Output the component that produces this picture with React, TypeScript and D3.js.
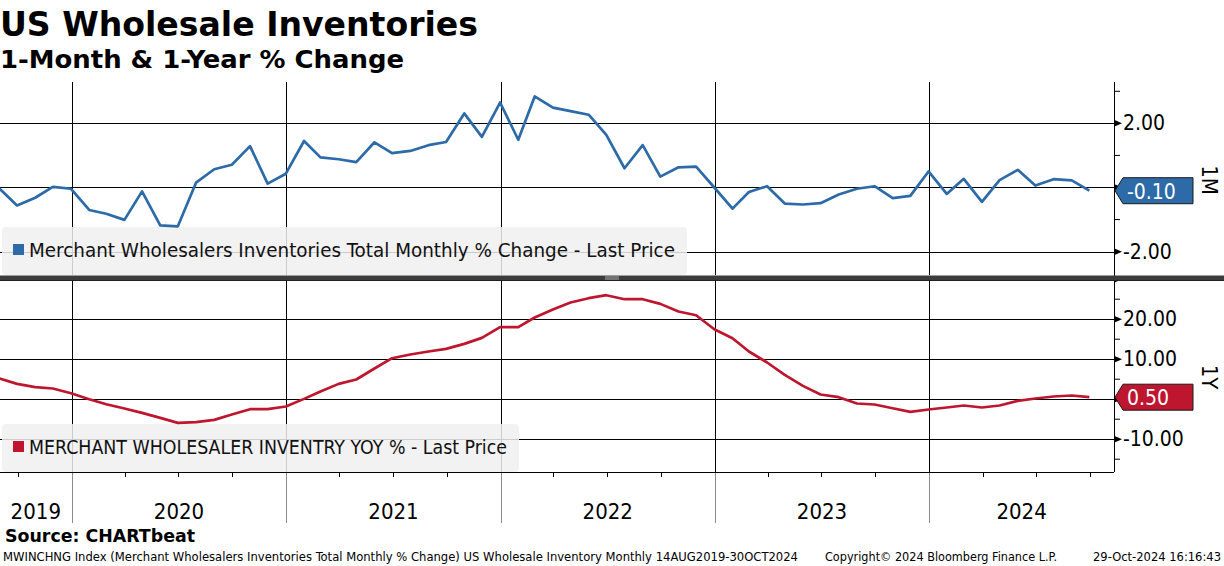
import React from "react";
import * as d3 from "d3";

const W = 1224;
const H = 566;

// monthly observations, Aug 2019 .. Sep 2024 (plotted at month end)
const startMonth = new Date(2019, 7, 1);
const monthlyChange = [
  -0.03, -0.56, -0.32, 0.02, -0.04, -0.7, -0.82, -1.01, -0.12, -1.18, -1.21, 0.15,
  0.57, 0.71, 1.29, 0.12, 0.43, 1.45, 0.94, 0.88, 0.79, 1.41, 1.07, 1.14,
  1.32, 1.42, 2.31, 1.58, 2.65, 1.49, 2.84, 2.49, 2.38, 2.27, 1.64, 0.6,
  1.32, 0.34, 0.63, 0.65, 0.0, -0.66, -0.14, 0.04, -0.5, -0.53, -0.49, -0.22,
  -0.04, 0.04, -0.33, -0.26, 0.5, -0.2, 0.27, -0.45, 0.23, 0.55, 0.06, 0.26,
  0.22, -0.1,
];
const yearlyChange = [
  5.17, 3.83, 3.0, 2.67, 1.5, 0.0, -1.25, -2.33, -3.42, -4.67, -5.92, -5.75,
  -5.17, -3.83, -2.5, -2.5, -1.83, 0.08, 1.92, 3.83, 4.92, 7.67, 10.25, 11.17,
  11.92, 12.58, 13.83, 15.33, 18.0, 18.0, 20.42, 22.4, 24.17, 25.25, 26.0, 25.0,
  25.0, 23.83, 21.92, 21.0, 17.5, 15.25, 11.92, 9.17, 6.08, 3.33, 1.17, 0.5,
  -1.08, -1.33, -2.25, -3.17, -2.58, -2.08, -1.58, -2.08, -1.58, -0.42, 0.17, 0.67,
  0.92, 0.5,
];
const years = [2019, 2020, 2021, 2022, 2023, 2024];
const topMajor = [2, 0, -2];
const topMinor = [3, 1, -1];
const topLabels = [2, -2];
const botMajor = [30, 20, 10, 0, -10];
const botMinor = [25, 15, 5, -5, -15];
const botLabels = [20, 10, -10];

const BLUE = "#2c6aa8";
const RED = "#bf1630";
const FONT = "'DejaVu Sans Condensed','DejaVu Sans',sans-serif";

const dates = monthlyChange.map((_, i) =>
  d3.timeDay.offset(d3.timeMonth.offset(startMonth, i + 1), -1)
);

const PL = 0;
const PR = 1114;
const TOP0 = 82;
const TOP1 = 276;
const BOT0 = 280;
const BOT1 = 472;

const x = d3.scaleTime().domain([new Date(2019, 8, 1), new Date(2024, 10, 11)]).range([PL, PR]);
const yTop = d3.scaleLinear().domain([-2.76, 3.29]).range([TOP1, TOP0]);
const yBot = d3.scaleLinear().domain([-18.2, 29.8]).range([BOT1, BOT0]);

const fmt = (v: number) => d3.format(".2f")(v).replace("\u2212", "-");

function Panel({ y, values, color, major, minor, labels, top, bottom, legend, legendW, legendLen, tag }: any) {
  const line = d3.line<number>()
    .x((_, i) => x(dates[i]))
    .y((d) => y(d));
  const last = values[values.length - 1];
  const ly = y(last);
  const yearLines = years.slice(1).map((yr) => x(new Date(yr, 0, 1)));
  return (
    <g>
      {major.filter((v: number) => y(v) > top + 2).map((v: number) => (
        <line key={"h" + v} x1={PL} x2={PR} y1={Math.round(y(v)) + 0.5} y2={Math.round(y(v)) + 0.5} stroke="#000" strokeWidth={1.2} />
      ))}
      {yearLines.map((xx, i) => (
        <line key={"v" + i} x1={Math.round(xx) + 0.5} x2={Math.round(xx) + 0.5} y1={top} y2={bottom} stroke="#000" strokeWidth={1} />
      ))}
      <rect x={2} y={bottom - 48} width={legendW} height={48} rx={4} fill="#f0f0f0" fillOpacity={0.85} />
      <rect x={13} y={bottom - 31} width={11} height={11} fill={color} />
      <text x={29} y={bottom - 18} fontFamily={FONT} fontStretch="condensed" fontSize={19} fill="#111" textLength={legendLen} lengthAdjust="spacingAndGlyphs">{legend}</text>
      <path d={line(values) || ""} fill="none" stroke={color} strokeWidth={2.7} strokeLinejoin="round" />
      {major.map((v: number) => (
        <path key={"t" + v} d={`M${PR},${y(v) - 3.5}L${PR + 8},${y(v)}L${PR},${y(v) + 3.5}Z`} fill="#000" />
      ))}
      {minor.map((v: number) => (
        <line key={"m" + v} x1={PR} x2={PR + 6} y1={y(v)} y2={y(v)} stroke="#000" strokeWidth={1} />
      ))}
      {labels.map((v: number) => (
        <text key={"l" + v} x={PR + 9} y={y(v)} dominantBaseline="central" fontFamily={FONT} fontStretch="condensed" fontSize={21} fill="#000">{fmt(v)}</text>
      ))}
      <path d={`M${PR + 1},${ly}L${PR + 9},${ly - 13}L${PR + 79},${ly - 13}L${PR + 79},${ly + 13}L${PR + 9},${ly + 13}Z`} fill={color} stroke="#1a1a1a" strokeWidth={1} />
      <text x={PR + 13} y={ly + 1} dominantBaseline="central" fontFamily={FONT} fontStretch="condensed" fontSize={21} fill="#fff">{fmt(last)}</text>
      <text transform={`translate(1209,${tag.y}) rotate(90)`} textAnchor="middle" dominantBaseline="central" fontFamily={FONT} fontStretch="condensed" fontSize={22} fill="#000">{tag.text}</text>
    </g>
  );
}

export default function App() {
  const yearStarts = years.map((yr) => x(new Date(yr, 0, 1)));
  const quarters = d3.timeMonth.every(3)!.range(new Date(2019, 8, 1), new Date(2024, 10, 11));
  return (
    <svg width={W} height={H} style={{ position: "absolute", left: 0, top: 0, background: "#fff" }}>
      <rect width={W} height={H} fill="#fff" />
      <text x={0} y={36} fontFamily={FONT} fontWeight="bold" fontSize={34} fill="#000" textLength={478} lengthAdjust="spacingAndGlyphs">US Wholesale Inventories</text>
      <text x={0} y={68} fontFamily={FONT} fontWeight="bold" fontSize={25} fill="#000" textLength={404} lengthAdjust="spacingAndGlyphs">1-Month &amp; 1-Year % Change</text>

      <Panel y={yTop} values={monthlyChange} color={BLUE} major={topMajor} minor={topMinor} labels={topLabels}
        top={TOP0} bottom={TOP1 - 1} legend="Merchant Wholesalers Inventories Total Monthly % Change - Last Price"
        legendW={685} legendLen={646} tag={{ y: 180, text: "1M" }} />
      <Panel y={yBot} values={yearlyChange} color={RED} major={botMajor} minor={botMinor} labels={botLabels}
        top={BOT0} bottom={BOT1} legend="MERCHANT WHOLESALER INVENTRY YOY % - Last Price"
        legendW={517} legendLen={478} tag={{ y: 377, text: "1Y" }} />

      {/* right axis */}
      <line x1={PR + 0.5} x2={PR + 0.5} y1={TOP0} y2={BOT1} stroke="#000" strokeWidth={1} />
      {/* separator between panels */}
      <rect x={0} y={275.5} width={W} height={5} fill="#3c3c3c" />
      <line x1={0} x2={W} y1={280.5} y2={280.5} stroke="#222" strokeWidth={1} />
      <line x1={605} x2={619} y1={277} y2={277} stroke="#aaa" strokeWidth={1} />
      <line x1={605} x2={619} y1={279} y2={279} stroke="#aaa" strokeWidth={1} />

      {/* time axis */}
      <line x1={PL} x2={PR} y1={BOT1 + 0.5} y2={BOT1 + 0.5} stroke="#000" strokeWidth={1.2} />
      {quarters.map((q, i) => (
        <line key={"q" + i} x1={Math.round(x(q)) + 0.5} x2={Math.round(x(q)) + 0.5} y1={BOT1} y2={BOT1 + 5} stroke="#000" strokeWidth={1} />
      ))}
      {yearStarts.slice(1).map((xx, i) => (
        <line key={"ys" + i} x1={Math.round(xx) + 0.5} x2={Math.round(xx) + 0.5} y1={BOT1 + 1} y2={523} stroke="#8a8a8a" strokeWidth={1} />
      ))}
      {years.map((yr, i) => {
        const a = Math.max(PL, yearStarts[i]);
        const b = Math.min(PR, i + 1 < years.length ? yearStarts[i + 1] : PR);
        return (
          <text key={"yl" + yr} x={(a + b) / 2} y={519} textAnchor="middle" fontFamily={FONT} fontStretch="condensed" fontSize={22} fill="#000">{yr}</text>
        );
      })}

      <text x={5} y={542} fontFamily={FONT} fontWeight="bold" fontSize={17} fill="#000" textLength={190} lengthAdjust="spacingAndGlyphs">Source: CHARTbeat</text>
      <g fontFamily={FONT} fontStretch="condensed" fontSize={13} fill="#000" style={{ whiteSpace: "pre" }}>
        <text x={3} y={561} textLength={795} lengthAdjust="spacingAndGlyphs">MWINCHNG Index (Merchant Wholesalers Inventories Total Monthly % Change) US Wholesale Inventory  Monthly 14AUG2019-30OCT2024</text>
        <text x={825} y={561} textLength={232} lengthAdjust="spacingAndGlyphs">Copyright© 2024 Bloomberg Finance L.P.</text>
        <text x={1093} y={561} textLength={128} lengthAdjust="spacingAndGlyphs">29-Oct-2024 16:16:43</text>
      </g>
    </svg>
  );
}
